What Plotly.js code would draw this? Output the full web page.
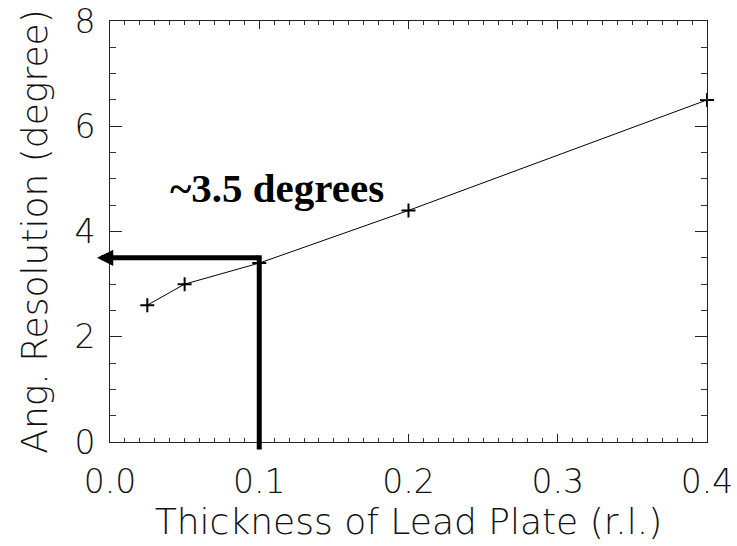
<!DOCTYPE html>
<html>
<head>
<meta charset="utf-8">
<script src="https://cdn.plot.ly/plotly-3.0.1.min.js"></script>
<style>html,body{margin:0;padding:0;background:#fff;}</style>
</head>
<body>
<div id="chart" style="width:737px;height:546px;"></div>
<script>
// Data
const thickness = [0.025, 0.05, 0.1, 0.2, 0.4];
const resolution = [2.6, 3.0, 3.4, 4.4, 6.5];

const xTickVals = [0, 0.1, 0.2, 0.3, 0.4];
const xTickText = ['0.0', '0.1', '0.2', '0.3', '0.4'];
const yTickVals = [0, 2, 4, 6, 8];
const yTickText = ['0', '2', '4', '6', '8'];

// Highlighted reading
const markX = [0.1];
const markY = [3.5];
const markLabel = ['~3.5 degrees'];

const thinFont = {family: 'DejaVu Sans', weight: 200, color: '#111'};

const trace = {
  x: thickness,
  y: resolution,
  type: 'scatter',
  mode: 'lines+markers',
  line: {color: '#000', width: 1},
  marker: {symbol: 'cross-thin', size: 10, color: '#000', line: {color: '#000', width: 2}},
  cliponaxis: false,
  showlegend: false,
  hoverinfo: 'x+y'
};

const layout = {
  width: 737,
  height: 546,
  margin: {l: 110, r: 30, t: 21, b: 104, pad: 0},
  paper_bgcolor: '#fff',
  plot_bgcolor: '#fff',
  showlegend: false,
  xaxis: {
    range: [0, 0.4],
    tickvals: xTickVals,
    ticktext: xTickText,
    ticks: 'inside',
    ticklen: 8,
    tickwidth: 1,
    tickcolor: '#222',
    mirror: 'allticks',
    showline: true,
    linecolor: '#222',
    linewidth: 1,
    showgrid: false,
    zeroline: false,
    ticklabelstandoff: 10,
    tickfont: Object.assign({size: 33}, thinFont),
    minor: {dtick: 0.01, ticks: 'inside', ticklen: 4, tickcolor: '#333', tickwidth: 1, showgrid: false},
    title: {text: 'Thickness of Lead Plate (r.l.)', font: Object.assign({size: 36}, thinFont), standoff: 6}
  },
  yaxis: {
    range: [0, 8],
    tickvals: yTickVals,
    ticktext: yTickText,
    ticks: 'inside',
    ticklen: 12,
    tickwidth: 1,
    tickcolor: '#222',
    mirror: 'allticks',
    showline: true,
    linecolor: '#222',
    linewidth: 1,
    showgrid: false,
    zeroline: false,
    ticklabelstandoff: 7,
    tickfont: Object.assign({size: 33}, thinFont),
    minor: {dtick: 0.5, ticks: 'inside', ticklen: 6, tickcolor: '#333', tickwidth: 1, showgrid: false},
    title: {text: 'Ang. Resolution (degree)', font: Object.assign({size: 36}, thinFont), standoff: 15}
  },
  annotations: [
    {
      // horizontal arrow from the reading point to the y axis
      x: -0.0087, y: markY[0], xref: 'x', yref: 'y',
      ax: markX[0], ay: markY[0], axref: 'x', ayref: 'y',
      text: '', showarrow: true, arrowhead: 2, arrowsize: 0.65, arrowwidth: 5, arrowcolor: '#000'
    },
    {
      // vertical line from below the x axis up to the reading
      x: markX[0], y: markY[0] + 0.05, xref: 'x', yref: 'y',
      ax: markX[0], ay: -0.17, axref: 'x', ayref: 'y',
      text: '', showarrow: true, arrowhead: 0, arrowwidth: 5, arrowcolor: '#000'
    },
    {
      x: 0.112, y: 4.83, xref: 'x', yref: 'y',
      text: markLabel[0], showarrow: false,
      font: {family: 'Liberation Serif', size: 41, weight: 'bold', color: '#000'},
      xanchor: 'center', yanchor: 'middle'
    }
  ]
};

Plotly.newPlot('chart', [trace], layout, {displayModeBar: false, staticPlot: true});
</script>
</body>
</html>
